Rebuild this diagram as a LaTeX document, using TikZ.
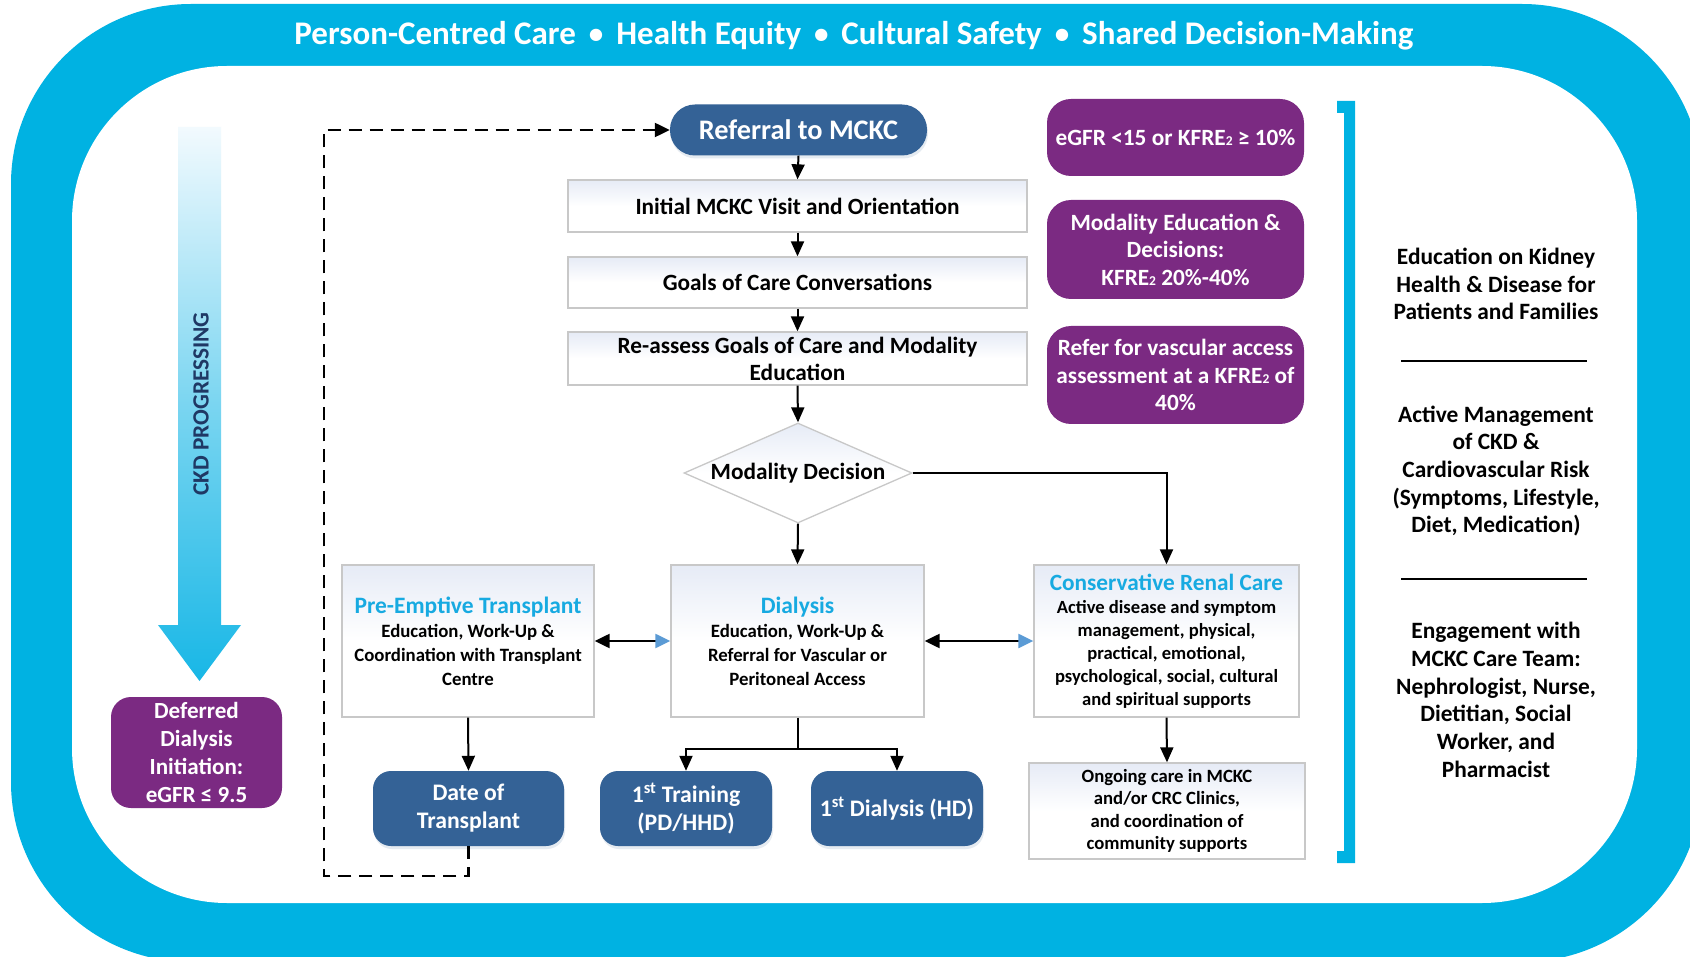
\documentclass[tikz,border=0pt]{standalone}
\usepackage{fontspec}
\setmainfont{Carlito}
\usetikzlibrary{arrows.meta,shapes.geometric,shadows}

\definecolor{frameblue}{RGB}{0,178,226}
\definecolor{navyfill}{RGB}{52,98,150}
\definecolor{plum}{RGB}{123,42,130}
\definecolor{headcyan}{RGB}{23,170,225}
\definecolor{boxline}{RGB}{200,200,200}
\definecolor{boxtop}{RGB}{230,235,246}
\definecolor{tipblue}{RGB}{91,155,213}
\definecolor{ckdnavy}{RGB}{31,56,100}
\definecolor{ckdtop}{RGB}{242,250,254}
\definecolor{ckdbot}{RGB}{24,183,230}

\newcommand\fsz[2]{\fontsize{#1}{#2}\selectfont\bfseries}
\newcommand\subtwo{{\fontsize{13.5}{13.5}\selectfont 2}}
\newcommand\dotsep{\hspace{13pt}\raisebox{1.5pt}{\fontsize{29}{29}\selectfont •}\hspace{13pt}}

\begin{document}
\begin{tikzpicture}[x=1pt,y=-1pt,
  flowbox/.style={draw=boxline, line width=1.3pt, top color=boxtop, bottom color=white,
    middle color=white, inner sep=0pt, align=center, text=black},
  pill/.style={fill=navyfill, text=white, inner sep=0pt, align=center,
    drop shadow={shadow xshift=1pt, shadow yshift=-3pt, opacity=.25, fill=navyfill!50}},
  plumbox/.style={fill=plum, text=white, inner sep=0pt, align=center, rounded corners=24pt},
  conn/.style={line width=2pt, -{Triangle[width=13pt,length=15pt]}},
  twoway/.style={line width=2.2pt, {Triangle[width=14pt,length=15pt]}-{Triangle[width=14pt,length=15pt,color=tipblue]}},
  backloop/.style={line width=2.3pt, dash pattern=on 13pt off 8pt, -{Triangle[width=14pt,length=15pt]}},
  sidetext/.style={align=center, font=\fsz{23.4}{27.7}, text=black},
]
\useasboundingbox (0,0) rectangle (1690,957);

% frame
\fill[frameblue, rounded corners=180pt] (11,4) rectangle (1702,962);
\fill[white, rounded corners=155pt] (72,66) rectangle (1637,903);

% banner
\node[text=white, font=\fsz{33}{38}] (banner) at (854,36)
  {Person-Centred Care\dotsep Health Equity\dotsep Cultural Safety\dotsep Shared Decision-Making};

% CKD progression arrow
\shade[top color=ckdtop, bottom color=ckdbot, middle color=ckdtop!45!ckdbot]
  (178,127) -- (221,127) -- (221,625) -- (241,625) -- (199.5,681) -- (158,625) -- (178,625) -- cycle;
\node[rotate=90, text=ckdnavy, font=\fsz{23.3}{27}] (ckd) at (201,404) {CKD PROGRESSING};

\node[plumbox, rounded corners=20pt, minimum width=171pt, minimum height=111pt, font=\fsz{23.1}{28}]
  (defer) at (196.5,752.5) {Deferred\\Dialysis\\Initiation:\\eGFR ≤ 9.5};

% main flow
\node[pill, rounded corners=25pt, minimum width=257pt, minimum height=51pt, font=\fsz{28.3}{32}]
  (ref) at (798.5,130) {Referral to MCKC};
\node[flowbox, minimum width=459pt, minimum height=52pt, font=\fsz{23.3}{27}]
  (init) at (797.5,206) {Initial MCKC Visit and Orientation};
\node[flowbox, minimum width=459pt, minimum height=51pt, font=\fsz{23.3}{27}]
  (goals) at (797.5,282.5) {Goals of Care Conversations};
\node[flowbox, minimum width=459pt, minimum height=53pt, font=\fsz{23.3}{27}]
  (reas) at (797.5,358.5) {Re-assess Goals of Care and Modality\\Education};
\node[flowbox, diamond, aspect=2.28, minimum width=228pt, minimum height=100pt, font=\fsz{23.3}{27}]
  (dec) at (798,473) {Modality Decision};

\node[flowbox, minimum width=252pt, minimum height=152pt, font=\fsz{18.8}{24}]
  (pre) at (468,641)
  {{\color{headcyan}\fsz{23.5}{26}Pre-Emptive Transplant}\\Education, Work-Up \&\\Coordination with Transplant\\Centre};
\node[flowbox, minimum width=253pt, minimum height=152pt, font=\fsz{18.8}{24}]
  (dial) at (797.5,641)
  {{\color{headcyan}\fsz{23.5}{26}Dialysis}\\Education, Work-Up \&\\Referral for Vascular or\\Peritoneal Access};
\node[flowbox, minimum width=265pt, minimum height=152pt, font=\fsz{18.6}{23}]
  (cons) at (1166.5,641)
  {{\color{headcyan}\fsz{23.3}{26}Conservative Renal Care}\\Active disease and symptom\\management, physical,\\practical, emotional,\\psychological, social, cultural\\and spiritual supports};
\node[flowbox, minimum width=276pt, minimum height=96pt, font=\fsz{18.7}{22.3}]
  (ong) at (1167,811)
  {Ongoing care in MCKC\\and/or CRC Clinics,\\and coordination of\\community supports};

\node[pill, rounded corners=18pt, minimum width=191pt, minimum height=75pt, font=\fsz{23.7}{28}]
  (dateT) at (468.5,808.5) {Date of\\Transplant};
\node[pill, rounded corners=18pt, minimum width=172pt, minimum height=75pt, font=\fsz{23.7}{28}]
  (train) at (686,808.5) {1\textsuperscript{st} Training\\(PD/HHD)};
\node[pill, rounded corners=18pt, minimum width=172pt, minimum height=75pt, font=\fsz{23.7}{28}]
  (firstd) at (897,808.5) {1\textsuperscript{st} Dialysis (HD)};

% criteria boxes
\node[plumbox, minimum width=257pt, minimum height=77pt, font=\fsz{23.3}{27.5}]
  (crA) at (1175.5,137.5) {eGFR <15 or KFRE\subtwo{} ≥ 10\%};
\node[plumbox, minimum width=257pt, minimum height=99pt, font=\fsz{23.3}{27.5}]
  (crB) at (1175.5,249.5) {Modality Education \&\\Decisions:\\KFRE\subtwo{} 20\%-40\%};
\node[plumbox, minimum width=257pt, minimum height=98pt, font=\fsz{23.3}{27.5}]
  (crC) at (1175.5,375) {Refer for vascular access\\assessment at a KFRE\subtwo{} of\\40\%};

% connectors
\draw[conn] (ref.south) -- (init.north);
\draw[conn] (init.south) -- (goals.north);
\draw[conn] (goals.south) -- (reas.north);
\draw[conn] (reas.south) -- (dec.north);
\draw[conn] (dec.south) -- (dial.north);
\draw[conn] (dec.east) -| (cons.north);
\draw[conn] (pre.south) -- (dateT.north);
\draw[line width=2pt] (dial.south) -- ++(0,31) coordinate (split);
\draw[conn] (split) -| (train.north);
\draw[conn] (split) -| (firstd.north);
\draw[conn] (cons.south) -- (ong.north);
\draw[twoway] (pre.east) -- (dial.west);
\draw[twoway] (dial.east) -- (cons.west);
\coordinate (loopcorner) at (324,876);
\draw[backloop] (dateT.south) |- (loopcorner) |- (ref.west);

% bracket and side notes
\fill[frameblue] (1337,101) -- (1355,101) -- (1355,863) -- (1337,863) -- (1337,851)
  -- (1344,851) -- (1344,113) -- (1337,113) -- cycle;

\node[sidetext] (noteA) at (1496,284) {Education on Kidney\\Health \& Disease for\\Patients and Families};
\node[sidetext] (noteB) at (1496,471) {Active Management\\of CKD \&\\Cardiovascular Risk\\(Symptoms, Lifestyle,\\Diet, Medication)};
\node[sidetext] (noteC) at (1496,700) {Engagement with\\MCKC Care Team:\\Nephrologist, Nurse,\\Dietitian, Social\\Worker, and\\Pharmacist};
\coordinate (ruleAl) at (1401,361);
\coordinate (ruleAr) at (1587,361);
\coordinate (ruleBl) at (1401,579);
\coordinate (ruleBr) at (1587,579);
\draw[line width=2pt] (ruleAl) -- (ruleAr);
\draw[line width=2pt] (ruleBl) -- (ruleBr);
\end{tikzpicture}
\end{document}
